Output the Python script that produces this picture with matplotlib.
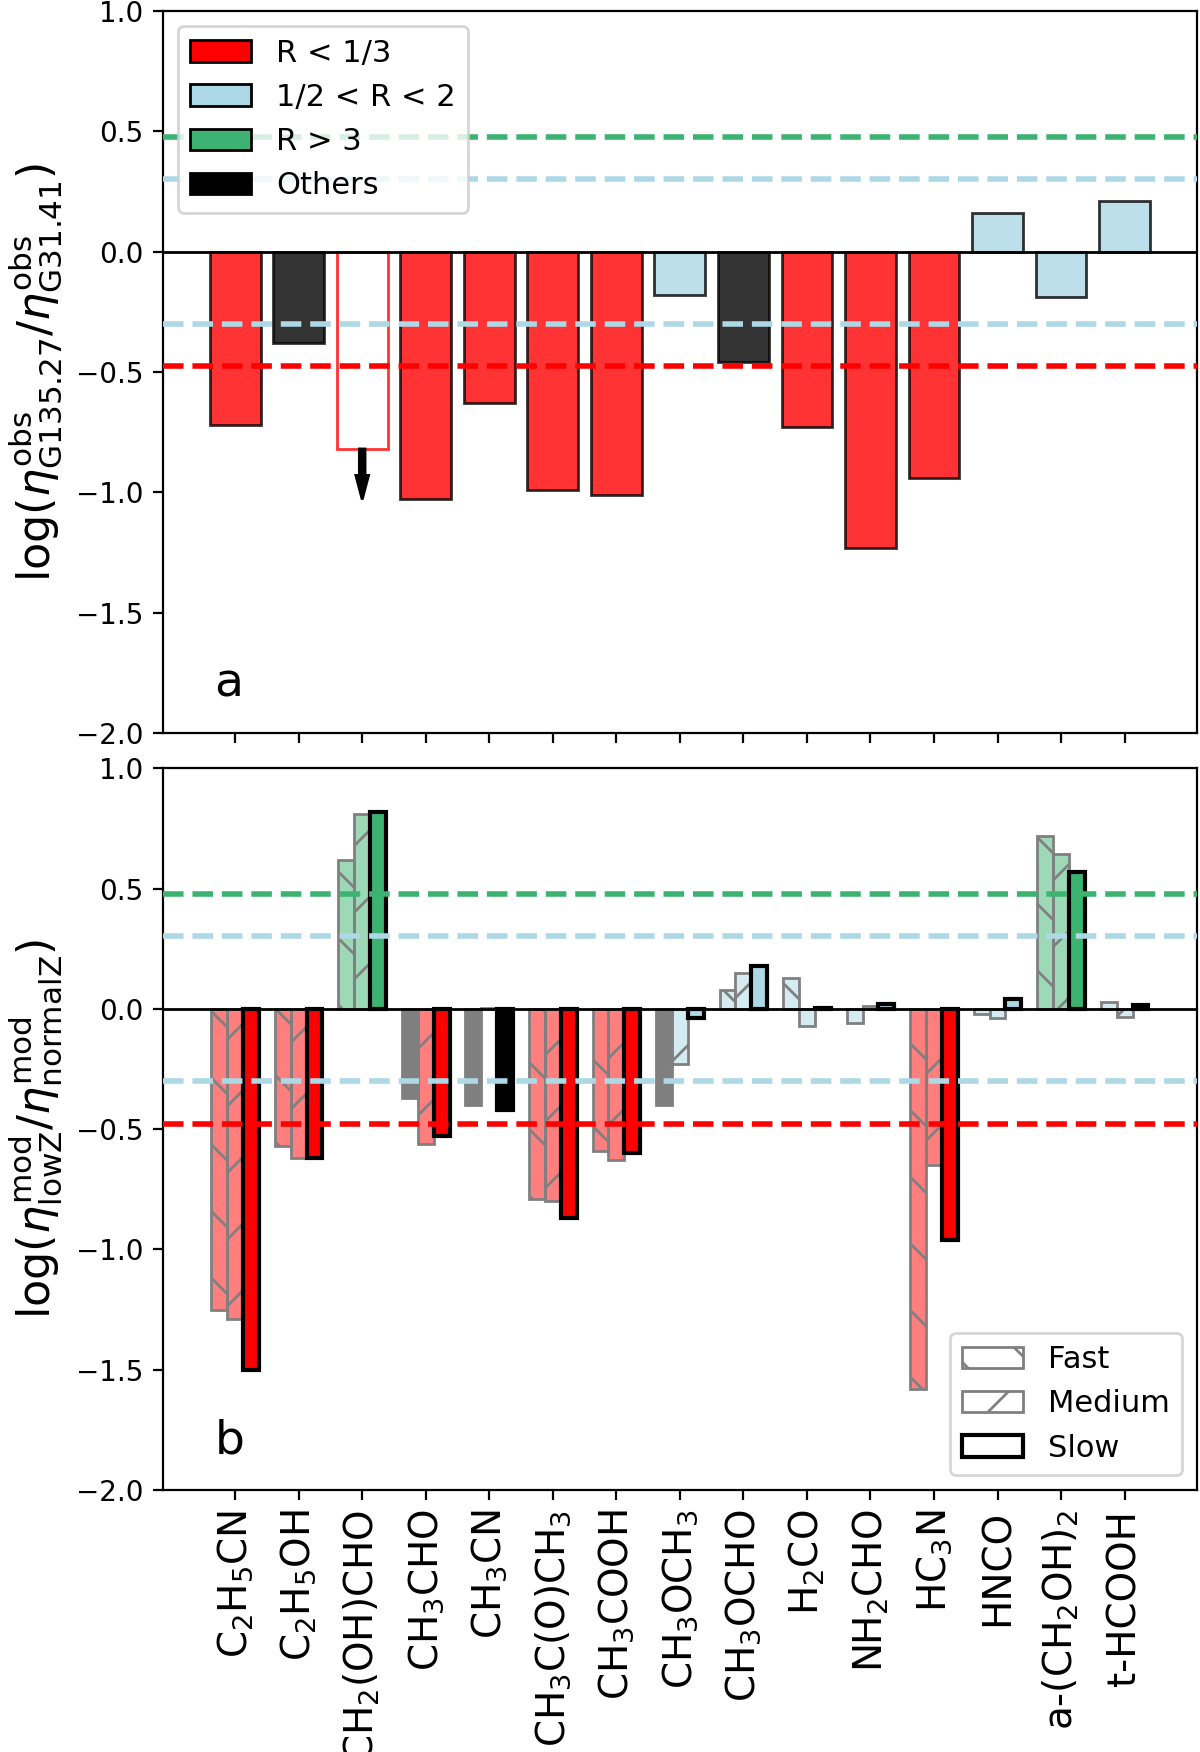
import numpy as np
import matplotlib.pyplot as plt
from matplotlib.patches import Patch
from matplotlib.colors import to_rgba

# molecules on the x axis
molecules = ['C$_2$H$_5$CN', 'C$_2$H$_5$OH', 'CH$_2$(OH)CHO', 'CH$_3$CHO', 'CH$_3$CN',
             'CH$_3$C(O)CH$_3$', 'CH$_3$COOH', 'CH$_3$OCH$_3$', 'CH$_3$OCHO', 'H$_2$CO',
             'NH$_2$CHO', 'HC$_3$N', 'HNCO', 'a-(CH$_2$OH)$_2$', 't-HCOOH']

# panel a: observed ratio G135.27 / G31.41 (log)
obs_ratio = [-0.72, -0.38, -0.82, -1.03, -0.63, -0.99, -1.01, -0.18, -0.46,
             -0.73, -1.23, -0.94, 0.16, -0.19, 0.21]
upper_limits = [2]   # CH2(OH)CHO is an upper limit

# panel b: model ratio lowZ / normalZ (log) for the three warm-up speeds
fast = [-1.25, -0.57, 0.62, -0.37, -0.40, -0.79, -0.59, -0.40, 0.08,
        0.13, -0.06, -1.58, -0.02, 0.72, 0.03]
medium = [-1.29, -0.62, 0.81, -0.56, 0.005, -0.80, -0.63, -0.23, 0.15,
          -0.07, 0.01, -0.65, -0.04, 0.645, -0.035]
slow = [-1.50, -0.62, 0.82, -0.53, -0.42, -0.87, -0.60, -0.04, 0.18,
        0.005, 0.02, -0.96, 0.04, 0.57, 0.017]

red_c = 'red'
blue_c = 'lightblue'
green_c = 'mediumseagreen'
other_c = 'black'

lim3 = np.log10(3)
lim2 = np.log10(2)


def pick_color(v):
    if v < -lim3:
        return red_c
    if abs(v) < lim2:
        return blue_c
    if v > lim3:
        return green_c
    return other_c


def ref_lines(ax):
    ax.axhline(0, color='k', lw=1, zorder=3)
    ax.axhline(lim3, color=green_c, ls='--', lw=2, zorder=3)
    ax.axhline(lim2, color=blue_c, ls='--', lw=2, zorder=3)
    ax.axhline(-lim2, color=blue_c, ls='--', lw=2, zorder=3)
    ax.axhline(-lim3, color=red_c, ls='--', lw=2, zorder=3)


fig, (ax1, ax2) = plt.subplots(2, 1, figsize=(6, 8.76), dpi=200, sharex=True)
fig.subplots_adjust(left=0.1356, right=0.9975, top=0.9937, bottom=0.1495, hspace=0.049)

x = np.arange(len(molecules))

#____________________________PANEL A
for i, v in enumerate(obs_ratio):
    if i in upper_limits:
        ax1.bar(x[i], v, 0.8, facecolor='white', edgecolor=red_c, lw=1, alpha=0.8)
        ax1.arrow(x[i], v, 0, -0.21, width=0.09, head_width=0.2, head_length=0.1,
                  length_includes_head=True, color='k', zorder=4)
    else:
        ax1.bar(x[i], v, 0.8, color=pick_color(v), edgecolor='k', lw=1, alpha=0.8)

ref_lines(ax1)
ax1.set_ylim(-2.0, 1.0)
ax1.set_yticks(np.arange(-2.0, 1.01, 0.5))
ax1.set_ylabel(r'log($\eta^{\rm obs}_{\rm G135.27}/\eta^{\rm obs}_{\rm G31.41}$)', fontsize=16)
ax1.text(0.05, 0.05, 'a', transform=ax1.transAxes, fontsize=17)

handles_a = [Patch(facecolor=red_c, edgecolor='k', label='R < 1/3'),
             Patch(facecolor=blue_c, edgecolor='k', label='1/2 < R < 2'),
             Patch(facecolor=green_c, edgecolor='k', label='R > 3'),
             Patch(facecolor=other_c, edgecolor='k', label='Others')]
ax1.legend(handles=handles_a, loc='upper left', fontsize=11, handlelength=2.0)

#____________________________PANEL B
w = 0.25
ax2.bar(x - w, fast, w, color=[to_rgba(pick_color(v), 0.5) for v in fast],
        edgecolor='gray', lw=1, hatch='\\')
ax2.bar(x, medium, w, color=[to_rgba(pick_color(v), 0.5) for v in medium],
        edgecolor='gray', lw=1, hatch='/')
ax2.bar(x + w, slow, w, color=[pick_color(v) for v in slow], edgecolor='k', lw=1.5)

ref_lines(ax2)
ax2.set_ylim(-2.0, 1.0)
ax2.set_yticks(np.arange(-2.0, 1.01, 0.5))
ax2.set_ylabel(r'log($\eta^{\rm mod}_{\rm lowZ}/\eta^{\rm mod}_{\rm normalZ}$)', fontsize=16)
ax2.text(0.05, 0.05, 'b', transform=ax2.transAxes, fontsize=17)

handles_b = [Patch(facecolor='white', edgecolor='gray', hatch='\\', label='Fast'),
             Patch(facecolor='white', edgecolor='gray', hatch='/', label='Medium'),
             Patch(facecolor='white', edgecolor='k', lw=1.5, label='Slow')]
ax2.legend(handles=handles_b, loc='lower right', fontsize=11, handlelength=2.0)

ax2.set_xticks(x)
ax2.set_xticklabels(molecules, rotation=90, fontsize=14)

for ax in (ax1, ax2):
    ax.tick_params(axis='y', labelsize=10)

fig.savefig('out.png', dpi=200)
